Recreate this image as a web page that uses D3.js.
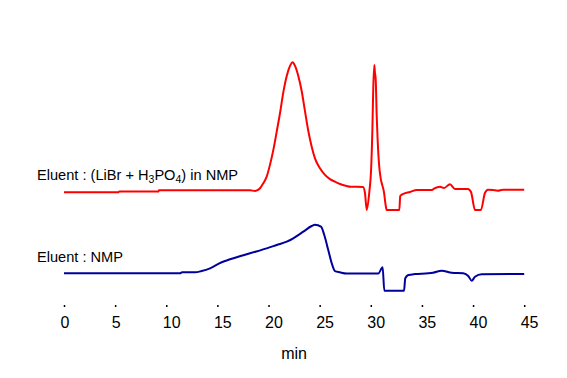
<!DOCTYPE html>
<html>
<head>
<meta charset="utf-8">
<script src="https://cdn.jsdelivr.net/npm/d3@7"></script>
<style>
  body { margin: 0; background: #fff; }
  text { font-family: "Liberation Sans", Arial, sans-serif; fill: #000; }
</style>
</head>
<body>
<div id="chart"></div>
<script>
// chromatogram traces, time in min, detector response in arbitrary units (baseline = 0)
var redTime = [0, 5.3, 5.4, 9.2, 9.3, 18.2, 18.68, 19.17, 19.49, 19.82, 20.14, 20.47, 20.80, 21.12, 21.44, 21.78,
  22.10, 22.36, 22.59, 22.91, 23.24, 23.56, 23.89, 24.22, 24.54, 25.03, 25.52, 26.01, 26.50, 26.99, 27.64,
  28.0, 29.24, 29.43, 29.6, 29.86, 30.02, 30.15, 30.24, 30.34, 30.40, 30.48, 30.58, 30.67, 30.8, 30.97,
  31.12, 31.28, 31.45, 31.55, 32.79, 32.88, 33.18, 33.83, 34.5, 35.98, 36.18, 36.77, 37.16, 37.74, 38.23,
  39.5, 39.8, 40.19, 40.77, 41.16, 41.46, 41.95, 42.4, 42.93, 45];
var redValue = [-1.0, -1.0, -0.5, -0.5, 0.5, 0.5, 0, 2.1, 6.0, 11.1, 20.2, 31.8, 46.0, 60.2, 76.2, 89.1,
  96.9, 99.8, 96.9, 89.1, 77.5, 62.0, 46.5, 34.3, 25.3, 17.6, 12.4, 9.1, 7.2, 5.4, 3.9,
  3.3, 3.1, -1.6, -14.7, -0.5, 15.1, 46.1, 79.6, 97.7, 92.0, 86.3, 57.6, 39.3, 21.2, 9.6,
  4.5, -0.5, -10.9, -14.7, -14.7, -3.9, -2.3, -0.8, 0.8, 0.8, 1.8, 3.3, 2.3, 5.2, 1.6,
  1.6, -0.8, -14.7, -14.7, -1.6, 1.0, 0.8, 0.2, 1.0, 1.0];

var blueTime = [0, 11.34, 11.54, 12.81, 13.46, 14.28, 15.42, 16.23, 18.19, 19.82, 20.80, 21.78, 22.42,
  23.40, 24.22, 24.54, 25.13, 25.45, 25.84, 26.18, 26.50, 26.99, 27.64, 30.73, 31.16, 31.32, 33.25,
  33.37, 33.67, 34.32, 35.62, 36.08, 36.93, 37.91, 39.04, 39.53, 39.87, 40.19, 40.84, 45];
var blueValue = [0.15, 0.15, 0.9, 0.9, 1.9, 4.0, 8.7, 11.0, 15.7, 19.5, 22.1, 24.7, 27.3,
  32.4, 36.8, 37.8, 36.3, 29.8, 18.2, 7.9, 1.9, 0.9, 0, 0, 4.8, -13.3, -13.3,
  -3.7, -1.2, -0.4, 0.15, 0.6, 2.2, 0.6, 0.15, -1.9, -5.6, -2.5, -0.6, -0.4];

// vertical offset of each trace (same units as the response)
var redOffset = 64;
var blueOffset = 0;

var xTicks = [0, 5, 10, 15, 20, 25, 30, 35, 40, 45];
var xLabel = "min";

var width = 567, height = 378;

var svg = d3.select("#chart")
  .append("svg")
    .attr("width", width)
    .attr("height", height);

var x = d3.scaleLinear()
    .domain([0, 45])
    .range([64, 524.2]);

var y = d3.scaleLinear()
    .domain([0, 100])
    .range([273.5, 144.5]);

var line = d3.line()
    .x(function(d) { return x(d.t); })
    .y(function(d) { return y(d.v); })
    .curve(d3.curveMonotoneX);

function toPoints(ts, vs, off) {
  return ts.map(function(t, i) { return {t: t, v: vs[i] + off}; });
}

svg.append("path")
    .datum(toPoints(redTime, redValue, redOffset))
    .attr("fill", "none")
    .attr("stroke", "#ff0000")
    .attr("stroke-width", 2)
    .attr("d", line);

svg.append("path")
    .datum(toPoints(blueTime, blueValue, blueOffset))
    .attr("fill", "none")
    .attr("stroke", "#00009c")
    .attr("stroke-width", 2)
    .attr("d", line);

// x axis: tiny tick marks only, no domain line
var xAxis = svg.append("g")
    .attr("transform", "translate(0,305)")
    .call(d3.axisBottom(x).tickValues(xTicks).tickSize(2).tickFormat(d3.format("d")));
xAxis.select(".domain").remove();
xAxis.selectAll(".tick line").attr("stroke", "#000").attr("stroke-width", 1.5);
xAxis.selectAll(".tick text")
    .attr("y", 22.5)
    .attr("dy", 0)
    .attr("x", -4)
    .attr("text-anchor", "start")
    .style("font-size", "16px")
    .style("font-family", "Liberation Sans, Arial, sans-serif")
    .attr("fill", "#000");

svg.append("text")
    .attr("x", x(22.5))
    .attr("y", 359)
    .attr("text-anchor", "middle")
    .style("font-size", "16px")
    .text(xLabel);

// trace labels
var lab1 = svg.append("text")
    .attr("x", 37)
    .attr("y", 180)
    .style("font-size", "14.6px");
lab1.append("tspan").text("Eluent : (LiBr + H");
lab1.append("tspan").attr("dy", 3).style("font-size", "10.5px").text("3");
lab1.append("tspan").attr("dy", -3).text("PO");
lab1.append("tspan").attr("dy", 3).style("font-size", "10.5px").text("4");
lab1.append("tspan").attr("dy", -3).text(") in NMP");

svg.append("text")
    .attr("x", 37)
    .attr("y", 262)
    .style("font-size", "14.6px")
    .text("Eluent : NMP");
</script>
</body>
</html>
